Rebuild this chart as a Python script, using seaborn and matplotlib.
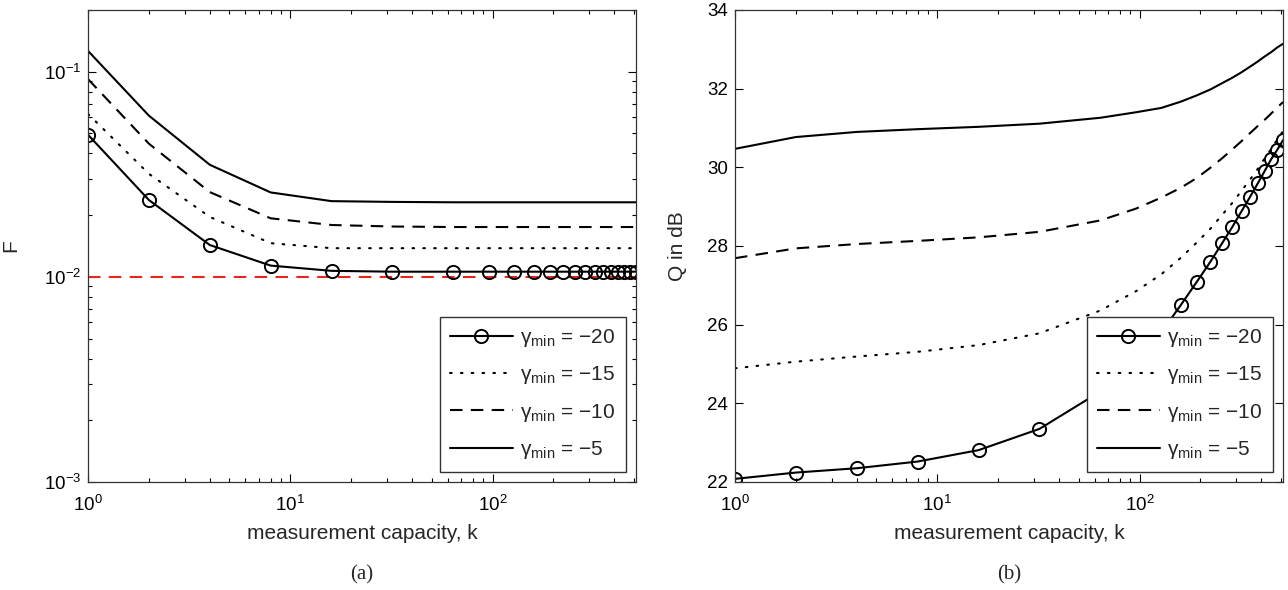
import numpy as np
import pandas as pd
import matplotlib
matplotlib.use("Agg")
import matplotlib.pyplot as plt
import seaborn as sns

# ---------------- data ----------------
k = [1, 2, 4, 8, 16, 32, 64, 96, 128, 160, 192, 224, 256, 288, 320, 352, 384, 416, 448, 480, 512]

F_m20 = [0.0493, 0.0237, 0.0143, 0.01135, 0.0107, 0.0106, 0.0106, 0.0106, 0.0106, 0.0106, 0.0106,
         0.0106, 0.0106, 0.0106, 0.0106, 0.0106, 0.0106, 0.0106, 0.0106, 0.0106, 0.0106]
F_m15 = [0.0623, 0.0318, 0.0196, 0.0146, 0.0138, 0.0138, 0.0138, 0.0138, 0.0138, 0.0138, 0.0138,
         0.0138, 0.0138, 0.0138, 0.0138, 0.0138, 0.0138, 0.0138, 0.0138, 0.0138, 0.0138]
F_m10 = [0.0921, 0.0446, 0.0259, 0.0193, 0.0179, 0.0176, 0.0175, 0.0175, 0.0175, 0.0175, 0.0175,
         0.0175, 0.0175, 0.0175, 0.0175, 0.0175, 0.0175, 0.0175, 0.0175, 0.0175, 0.0175]
F_m5 = [0.1264, 0.0611, 0.0352, 0.0258, 0.0234, 0.0232, 0.0231, 0.0231, 0.0231, 0.0231, 0.0231,
        0.0231, 0.0231, 0.0231, 0.0231, 0.0231, 0.0231, 0.0231, 0.0231, 0.0231, 0.0231]
F_target = [0.01, 0.01]
F_target_k = [1, 512]

Q_m20 = [22.08, 22.24, 22.35, 22.52, 22.81, 23.35, 24.30, 25.05, 25.80, 26.50, 27.09,
         27.60, 28.07, 28.49, 28.89, 29.25, 29.59, 29.91, 30.21, 30.45, 30.69]
Q_m15 = [24.89, 25.06, 25.19, 25.31, 25.48, 25.78, 26.36, 26.85, 27.28, 27.70, 28.09,
         28.44, 28.79, 29.10, 29.41, 29.69, 29.96, 30.23, 30.47, 30.71, 30.92]
Q_m10 = [27.69, 27.94, 28.05, 28.13, 28.22, 28.36, 28.65, 28.95, 29.23, 29.48, 29.73,
         29.99, 30.23, 30.46, 30.67, 30.87, 31.05, 31.21, 31.37, 31.52, 31.66]
Q_m5 = [30.47, 30.77, 30.90, 30.97, 31.03, 31.11, 31.26, 31.40, 31.51, 31.67, 31.83,
        31.98, 32.14, 32.28, 32.42, 32.56, 32.69, 32.82, 32.93, 33.05, 33.14]

labels = [r"$\mathregular{\gamma_{min}}$ = −20", r"$\mathregular{\gamma_{min}}$ = −15",
          r"$\mathregular{\gamma_{min}}$ = −10", r"$\mathregular{\gamma_{min}}$ = −5"]
xlabel = "measurement capacity, k"

# ---------------- style ----------------
sns.set_style("ticks")
plt.rcParams["font.family"] = ["Liberation Sans", "DejaVu Sans"]
plt.rcParams["mathtext.fontset"] = "custom"
plt.rcParams["mathtext.rm"] = "Liberation Sans"
plt.rcParams["mathtext.it"] = "Liberation Sans:italic"
plt.rcParams["mathtext.bf"] = "Liberation Sans:bold"
plt.rcParams["font.size"] = 13.5
plt.rcParams["axes.linewidth"] = 0.9

fig = plt.figure(figsize=(12.88, 5.90), dpi=100)
axL = fig.add_axes([88 / 1288, 1 - 482 / 590, 548 / 1288, 472 / 590])
axR = fig.add_axes([735 / 1288, 1 - 482 / 590, 548 / 1288, 472 / 590])

LW = 1.5
styles = [
    dict(linestyle="-", marker="o", markersize=9.5, markerfacecolor="none",
         markeredgecolor="black", markeredgewidth=1.4),
    dict(linestyle=(0, (0.8, 4.4)), dash_capstyle="round"),
    dict(linestyle=(0, (6, 4))),
    dict(linestyle="-"),
]


def draw(ax, series):
    for vals, lab, st in zip(series, labels, styles):
        kw = dict(st)
        if "marker" not in kw:
            kw.update(marker=None, markeredgecolor="black", markeredgewidth=0)
        sns.lineplot(x=k, y=vals, ax=ax, color="black", linewidth=LW, label=lab,
                     estimator=None, sort=False, **kw)


def finish(ax, ylabel_x):
    ax.set_xscale("log")
    ax.set_xlim(1, 512)
    ax.tick_params(which="both", direction="in", top=True, right=True, labelsize=13.5,
                   width=0.8, colors="black")
    ax.tick_params(which="major", length=6)
    ax.tick_params(which="minor", length=3)
    ax.tick_params(axis="x", which="both", pad=9)
    ax.tick_params(axis="y", which="both", pad=5)
    ax.set_xlabel(xlabel, fontsize=15)
    ax.xaxis.set_label_coords(0.5, -(524 - 482) / 472)
    ax.yaxis.set_label_coords(ylabel_x, 0.5)
    for s in ax.spines.values():
        s.set_visible(True)
        s.set_color("#333333")
    leg = ax.legend(loc="lower right", fontsize=15, frameon=True, fancybox=False,
                    edgecolor="#333333", framealpha=1, handlelength=3.0,
                    handletextpad=0.35, labelspacing=0.74, borderaxespad=0.5,
                    borderpad=0.5)
    leg.get_frame().set_linewidth(1.0)


# left: F
draw(axL, [F_m20, F_m15, F_m10, F_m5])
axL.plot(F_target_k, F_target, color="#e8251c", linestyle=(0, (6, 4)), linewidth=LW,
         zorder=1)
axL.set_yscale("log")
axL.set_ylim(1e-3, 0.2)
axL.set_ylabel("F", fontsize=15)
finish(axL, (20 - 88) / 548)

# right: Q
draw(axR, [Q_m20, Q_m15, Q_m10, Q_m5])
axR.set_ylim(22, 34)
axR.set_yticks([22, 24, 26, 28, 30, 32, 34])
axR.set_ylabel("Q in dB", fontsize=15)
finish(axR, (687 - 735) / 548)

fig.text(362 / 1288, 15 / 590, "(a)", ha="center", va="center", fontsize=15,
         family="Liberation Serif")
fig.text(1009 / 1288, 15 / 590, "(b)", ha="center", va="center", fontsize=15,
         family="Liberation Serif")

fig.savefig("out.png", dpi=100)
